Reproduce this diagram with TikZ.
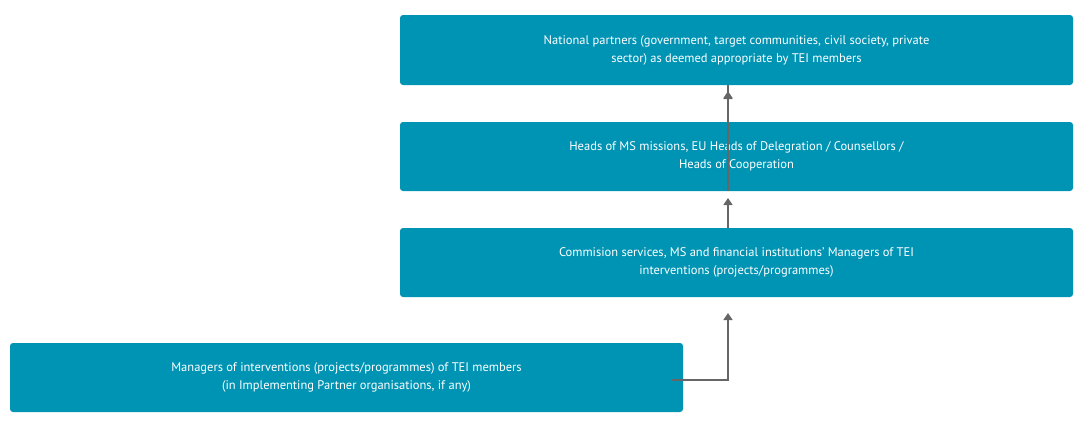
\documentclass[tikz,border=0pt]{standalone}
\usepackage{fontspec}
\setmainfont{PT Sans}
\usetikzlibrary{arrows.meta}
\definecolor{teal1}{HTML}{0094B4}
\definecolor{arr}{HTML}{666666}
\begin{document}
\begin{tikzpicture}[x=1pt,y=-1pt,
 box/.style={fill=teal1,rounded corners=3pt,text=white,align=center,font=\fontsize{12.5}{18}\selectfont,inner sep=0pt},
 con/.style={draw=arr,line width=1.6pt,-{Triangle[length=7pt,width=9pt]}}]
\useasboundingbox (0,0) rectangle (1090,431);
\node[box,minimum width=673pt,minimum height=70pt] (a) at (736.5,50) {National partners (government, target communities, civil society, private\\sector) as deemed appropriate by TEI members};
\node[box,minimum width=673pt,minimum height=69pt] (b) at (736.5,156.5) {Heads of MS missions, EU Heads of Delegration / Counsellors /\\Heads of Cooperation};
\node[box,minimum width=673pt,minimum height=69pt] (c) at (736.5,262.5) {Commision services, MS and financial institutions’ Managers of TEI\\interventions (projects/programmes)};
\node[box,minimum width=673pt,minimum height=69pt] (d) at (346.5,377.5) {Managers of interventions (projects/programmes) of TEI members\\(in Implementing Partner organisations, if any)};
\coordinate (s) at (672,380);
\coordinate (t1) at (728,297);
\coordinate (t2) at (728,191);
\draw[con] (t2) -- (t2|-a.south) ++(0,-6pt);
\draw[con] (728,122) -- (728,92);
\draw[con] (728,228) -- (728,198);
\draw[con] (s) -- (728,380) -- (728,313);
\end{tikzpicture}
\end{document}
